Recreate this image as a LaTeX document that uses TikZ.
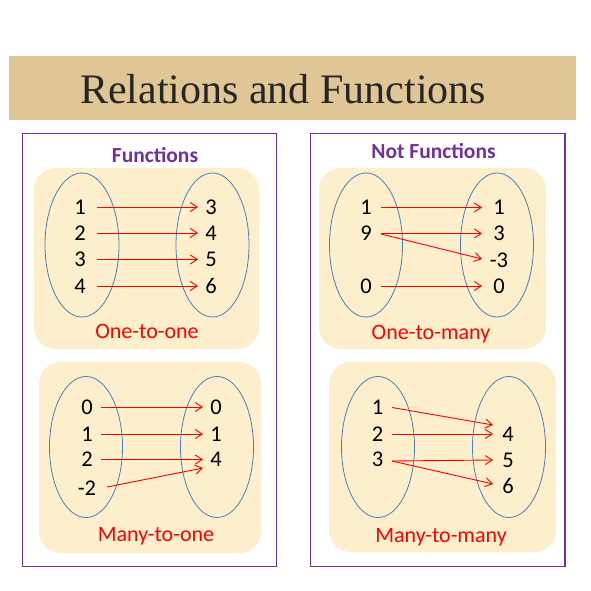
\documentclass[tikz,border=0pt]{standalone}
\usepackage{fontspec}
\setmainfont{Carlito}
\newfontfamily\titlefont{Liberation Serif}
\usetikzlibrary{arrows.meta}
\definecolor{band}{HTML}{E0C595}
\definecolor{cream}{HTML}{FDEFCC}
\definecolor{purp}{HTML}{7030A0}
\definecolor{ellblue}{HTML}{4A7EBB}
\definecolor{titlegray}{HTML}{262626}
\begin{document}
\begin{tikzpicture}[x=1pt,y=-1pt,
  panel/.style={draw=purp,line width=1.2pt},
  setbox/.style={fill=cream,rounded corners=22pt},
  ell/.style={draw=ellblue,line width=0.8pt},
  num/.style={inner sep=0pt,font=\fontsize{22.5}{26}\selectfont},
  lbl/.style={inner sep=0pt,anchor=base,text=red,font=\fontsize{22}{26}\selectfont},
  hdr/.style={inner sep=0pt,anchor=base,text=purp,font=\fontsize{21.5}{25}\selectfont\bfseries},
  arr/.style={draw=red,line width=0.9pt,-{Straight Barb[length=7pt,width=9pt]}}]
\useasboundingbox[fill=white] (0,0) rectangle (591,591);
% title band
\fill[band] (9,56) rectangle (576,120.5);
\node[inner sep=0pt,anchor=base,text=titlegray,font=\titlefont\fontsize{42}{48}\selectfont] (title) at (283,103) {Relations and Functions};
% panels
\draw[panel] (22.5,133.5) rectangle (276.5,566.5);
\draw[panel] (310.5,133.5) rectangle (565,566.5);
\node[hdr] (hf) at (155,162) {Functions};
\node[hdr] (hnf) at (433.5,158) {Not Functions};
% ---------- Panel A: one-to-one
\fill[setbox] (34,168) rectangle (259,349);
\draw[ell] (82,245) ellipse [x radius=37pt, y radius=72pt];
\draw[ell] (212.5,245) ellipse [x radius=36.5pt, y radius=72pt];
\node[num] (a1) at (80,207) {1};
\node[num] (a2) at (80,233) {2};
\node[num] (a3) at (80,259.5) {3};
\node[num] (a4) at (80,286) {4};
\node[num] (b3) at (211,207) {3};
\node[num] (b4) at (211,233) {4};
\node[num] (b5) at (211,259.5) {5};
\node[num] (b6) at (211,286) {6};
\draw[arr] ([xshift=17]a1.center) -- ([xshift=-13]b3.center);
\draw[arr] ([xshift=17]a2.center) -- ([xshift=-13]b4.center);
\draw[arr] ([xshift=17]a3.center) -- ([xshift=-13]b5.center);
\draw[arr] ([xshift=17]a4.center) -- ([xshift=-13]b6.center);
\node[lbl] (la) at (147,338.5) {One-to-one};
% ---------- Panel B: many-to-one
\fill[setbox] (39,362) rectangle (261,553);
\draw[ell] (86,447) ellipse [x radius=36.5pt, y radius=70.5pt];
\draw[ell] (217,447) ellipse [x radius=36.5pt, y radius=70.5pt];
\node[num] (c0) at (87,407) {0};
\node[num] (c1) at (87,434) {1};
\node[num] (c2) at (87,459.5) {2};
\node[num] (cm2) at (87,488) {-2};
\node[num] (d0) at (216,407) {0};
\node[num] (d1) at (216,434) {1};
\node[num] (d4) at (216,459.5) {4};
\draw[arr] ([xshift=14]c0.center) -- ([xshift=-13]d0.center);
\draw[arr] ([xshift=14]c1.center) -- ([xshift=-13]d1.center);
\draw[arr] ([xshift=14]c2.center) -- ([xshift=-13]d4.center);
\draw[arr] ([shift={(20,-1)}]cm2.center) -- ([shift={(-13,8.5)}]d4.center);
\node[lbl] (lb) at (156,541.5) {Many-to-one};
% ---------- Panel C: one-to-many
\fill[setbox] (319,168) rectangle (546,349);
\draw[ell] (366,245) ellipse [x radius=36.5pt, y radius=72pt];
\draw[ell] (497,245) ellipse [x radius=36.5pt, y radius=72pt];
\node[num] (e1) at (366,207.5) {1};
\node[num] (e9) at (366,233.5) {9};
\node[num] (e0) at (366,286) {0};
\node[num] (f1) at (499,207.5) {1};
\node[num] (f3) at (499,233.5) {3};
\node[num] (fm3) at (499,260) {-3};
\node[num] (f0) at (499,286) {0};
\draw[arr] ([xshift=15]e1.center) -- ([xshift=-17]f1.center);
\draw[arr] ([xshift=15]e9.center) -- ([xshift=-17]f3.center);
\draw[arr] ([shift={(15,0.5)}]e9.center) -- ([shift={(-17,-1)}]fm3.center);
\draw[arr] ([xshift=15]e0.center) -- ([xshift=-17]f0.center);
\node[lbl] (lc) at (431,339) {One-to-many};
% ---------- Panel D: many-to-many
\fill[setbox] (329,362) rectangle (556,552);
\draw[ell] (378,447) ellipse [x radius=36.5pt, y radius=70.5pt];
\draw[ell] (509,447) ellipse [x radius=36.5pt, y radius=70.5pt];
\node[num] (g1) at (377.5,407.5) {1};
\node[num] (g2) at (377.5,434) {2};
\node[num] (g3) at (377.5,459.5) {3};
\node[num] (h4) at (508,434) {4};
\node[num] (h5) at (508,460) {5};
\node[num] (h6) at (508,486) {6};
\draw[arr] ([xshift=14.5]g1.center) -- ([shift={(-15,-9)}]h4.center);
\draw[arr] ([xshift=14.5]g2.center) -- ([xshift=-15]h4.center);
\draw[arr] ([shift={(14.5,1.5)}]g3.center) -- ([xshift=-15]h5.center);
\draw[arr] ([shift={(14.5,1.5)}]g3.center) -- ([shift={(-15,-2)}]h6.center);
\node[lbl] (ld) at (441,542) {Many-to-many};
\end{tikzpicture}
\end{document}
